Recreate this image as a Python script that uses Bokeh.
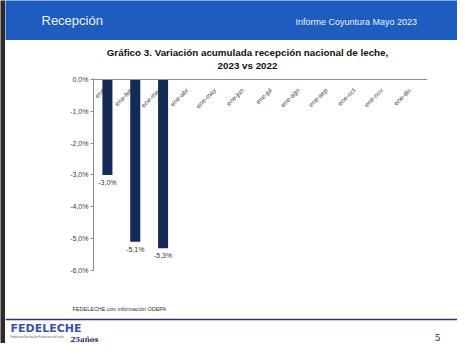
import math
from bokeh.plotting import figure
from bokeh.layouts import column, row
from bokeh.models import Range1d, FactorRange, FixedTicker, Span, ColumnDataSource
from bokeh.transform import dodge
from bokeh.core.properties import value
from bokeh.embed import file_html
from bokeh.resources import INLINE

# ---- data ----
categories = ["ene", "ene-feb", "ene-mar", "ene-abr", "ene-may", "ene-jun",
              "ene-jul", "ene-ago", "ene-sep", "ene-oct", "ene-nov", "ene-dic"]
data_months = ["ene", "ene-feb", "ene-mar"]
variation = [-3.0, -5.1, -5.3]
value_labels = ["-3,0%", "-5,1%", "-5,3%"]
y_ticks = [0, -1, -2, -3, -4, -5, -6]
y_tick_labels = ["0,0%", "-1,0%", "-2,0%", "-3,0%", "-4,0%", "-5,0%", "-6,0%"]

header_left = "Recepción"
header_right = "Informe Coyuntura Mayo 2023"
title_1 = "Gráfico 3. Variación acumulada recepción nacional de leche,"
title_2 = "2023 vs 2022"
source_note = "FEDELECHE  con información ODEPA"
page_number = "5"

FONT = value("Liberation Sans")
TOTAL_H = 343
STRIP_W = 5
W = 457 - STRIP_W
BLUE = "#1f5cbf"
NAVY = "#152b55"
DARK = "#2b2b2b"


def deco(h, y0, bg="white", w=W, x0=STRIP_W):
    f = figure(width=w, height=h, x_range=Range1d(x0, x0 + w),
               y_range=Range1d(y0 + h, y0), output_backend="svg",
               toolbar_location=None, x_axis_location=None,
               y_axis_location=None, min_border=0, frame_align=False,
               background_fill_color=bg, border_fill_color=bg,
               outline_line_color=None)
    f.grid.visible = False
    return f


# ---- left dark strip of the slide ----
strip = deco(TOTAL_H, 0, DARK, w=STRIP_W, x0=0)

# ---- header band ----
header = deco(40, 0, BLUE)
header.text(x=[41], y=[20], text=[header_left], text_font=FONT,
            text_font_size="13px", text_color="#eef3fb",
            text_baseline="middle", text_align="left")
header.text(x=[295], y=[21], text=[header_right], text_font=FONT,
            text_font_size="9px", text_color="#eef3fb",
            text_baseline="middle", text_align="left")

# ---- chart title ----
tfig = deco(32, 40)
tfig.text(x=[247, 247], y=[52, 65], text=[title_1, title_2], text_font=FONT,
          text_font_size="9.8px", text_font_style="bold", text_color="#111111",
          text_baseline="middle", text_align="center")

# ---- chart ----
p = figure(width=W, height=218, x_range=FactorRange(*categories),
           y_range=Range1d(-6, 0.0314), output_backend="svg",
           toolbar_location=None, x_axis_location=None, frame_align=False,
           min_border_left=93 - STRIP_W, min_border_right=30, min_border_top=6,
           min_border_bottom=20, outline_line_color=None,
           background_fill_color="white", border_fill_color="white")
p.grid.visible = False
ax = p.yaxis[0]
ax.ticker = FixedTicker(ticks=y_ticks)
ax.major_label_overrides = dict(zip(y_ticks, y_tick_labels))
ax.axis_line_color = "#8c8c8c"
ax.major_tick_line_color = "#8c8c8c"
ax.major_tick_out = 3
ax.major_tick_in = 0
ax.minor_tick_out = 0
ax.minor_tick_in = 0
ax.major_label_standoff = 2
ax.major_label_text_font = "Liberation Sans"
ax.major_label_text_font_size = "7px"
ax.major_label_text_color = "#3c3c3c"

p.add_layout(Span(location=0, dimension="width", line_color="#8c8c8c",
                  line_width=1))

cat_src = ColumnDataSource(dict(cat=categories))
p.text(x=dodge("cat", -0.14, range=p.x_range), y=-0.3, text="cat",
       source=cat_src, angle=math.pi / 4, text_align="right",
       text_baseline="middle", text_font=FONT, text_font_size="6.5px",
       text_color="#3a3a3a")

bar_src = ColumnDataSource(dict(cat=data_months, val=variation,
                                lab=value_labels))
p.vbar(x="cat", top=0, bottom="val", width=0.36, source=bar_src,
       fill_color=NAVY, line_color=None)
p.text(x="cat", y="val", text="lab", source=bar_src, y_offset=4,
       text_align="center", text_baseline="top", text_font=FONT,
       text_font_size="7px", text_color="#333333")

# ---- footer ----
foot = deco(TOTAL_H - 290, 290)
foot.text(x=[72], y=[308], text=[source_note], text_font=FONT,
          text_font_size="5.5px", text_color="#333333",
          text_baseline="middle", text_align="left")
foot.add_layout(Span(location=319, dimension="width", line_color="#2b2f7e",
                     line_width=1.5))
foot.text(x=[10], y=[328], text=["FEDELECHE"], text_font=value("DejaVu Sans"),
          text_font_size="11px", text_font_style="bold", text_color="#3d4fae",
          text_baseline="middle", text_align="left")
foot.text(x=[10], y=[337], text=["Federación Nacional de Productores de Leche"],
          text_font=FONT, text_font_size="2.6px", text_color="#555555",
          text_baseline="middle", text_align="left")
foot.text(x=[70], y=[343], text=["25años"], text_font=value("DejaVu Serif"),
          text_font_size="7px", text_font_style="bold italic",
          text_color="#1b2060", text_baseline="bottom", text_align="left")
foot.text(x=[437], y=[337], text=[page_number], text_font=value("DejaVu Serif"),
          text_font_size="9px", text_color="#222222",
          text_baseline="middle", text_align="center")

layout = row(strip, column(header, tfig, p, foot, spacing=0), spacing=0)
open("out.html", "w").write(file_html(layout, INLINE))
